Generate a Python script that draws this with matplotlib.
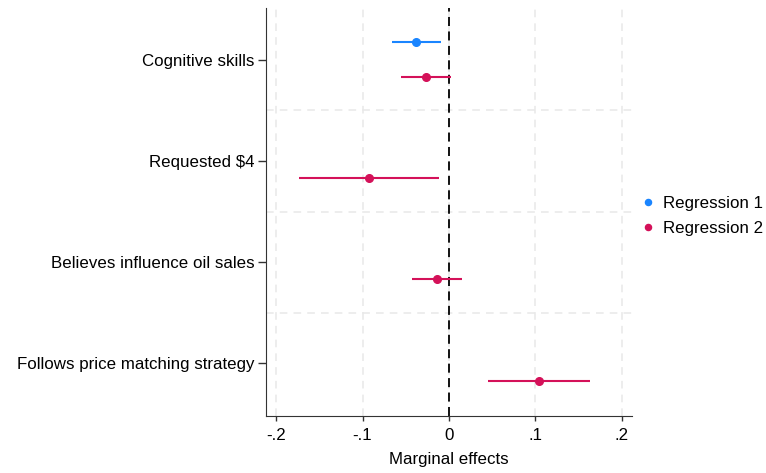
import numpy as np
import matplotlib.pyplot as plt

plt.rcParams['font.family'] = ['Liberation Sans', 'DejaVu Sans']

categories = ["Cognitive skills", "Requested $4", "Believes influence oil sales",
              "Follows price matching strategy"]

# Regression 1: only cognitive skills
reg1_est = [-0.038]
reg1_lo = [-0.066]
reg1_hi = [-0.009]

# Regression 2: all four
reg2_est = [-0.026, -0.093, -0.014, 0.104]
reg2_lo = [-0.055, -0.173, -0.043, 0.045]
reg2_hi = [0.003, -0.012, 0.015, 0.163]

xticks = [-0.2, -0.1, 0, 0.1, 0.2]
xticklabels = ["-.2", "-.1", "0", ".1", ".2"]

c1 = "#1a85ff"
c2 = "#d41159"
fs = 12.2

fig = plt.figure(figsize=(7.66, 4.73), dpi=100)
ax = fig.add_axes([0.347, 0.1205, 0.478, 0.8625])

pos = np.arange(len(categories))
off = 0.17

# grid
for xt in xticks:
    ax.axvline(xt, color="#e8e8e8", lw=1.1, ls=(0, (5, 4)), zorder=0)
for s in pos[:-1] + 0.5:
    ax.axhline(s, color="#e8e8e8", lw=1.1, ls=(0, (5, 4)), zorder=0)
ax.axvline(0, color="black", lw=1.3, ls=(0, (5, 3)), zorder=1)

y1 = pos[:len(reg1_est)] - off
ax.hlines(y1, reg1_lo, reg1_hi, color=c1, lw=1.5, zorder=2)
ax.plot(reg1_est, y1, "o", color=c1, ms=5.5, zorder=3, label="Regression 1")

y2 = pos + off
ax.hlines(y2, reg2_lo, reg2_hi, color=c2, lw=1.5, zorder=2)
ax.plot(reg2_est, y2, "o", color=c2, ms=5.5, zorder=3, label="Regression 2")

ax.set_xlim(-0.212, 0.212)
ax.set_ylim(len(categories) - 0.48, -0.51)
ax.set_yticks(pos)
ax.set_yticklabels(categories, fontsize=fs)
ax.set_xticks(xticks)
ax.set_xticklabels(xticklabels, fontsize=fs)
ax.set_xlabel("Marginal effects", fontsize=fs, labelpad=6)

ax.spines["top"].set_visible(False)
ax.spines["right"].set_visible(False)
ax.spines["left"].set_color("#333333")
ax.spines["bottom"].set_color("#333333")
ax.tick_params(axis="y", length=5.8, width=1, color="#333333", pad=2.5)
ax.tick_params(axis="x", length=3.8, width=1, color="#333333", pad=5)

leg = ax.legend(loc="center left", bbox_to_anchor=(1.015, 0.49), frameon=False,
                fontsize=fs, handlelength=0.5, handletextpad=0.6, markerscale=0.8,
                borderaxespad=0, labelspacing=0.6)

fig.savefig("out.png", dpi=100)
